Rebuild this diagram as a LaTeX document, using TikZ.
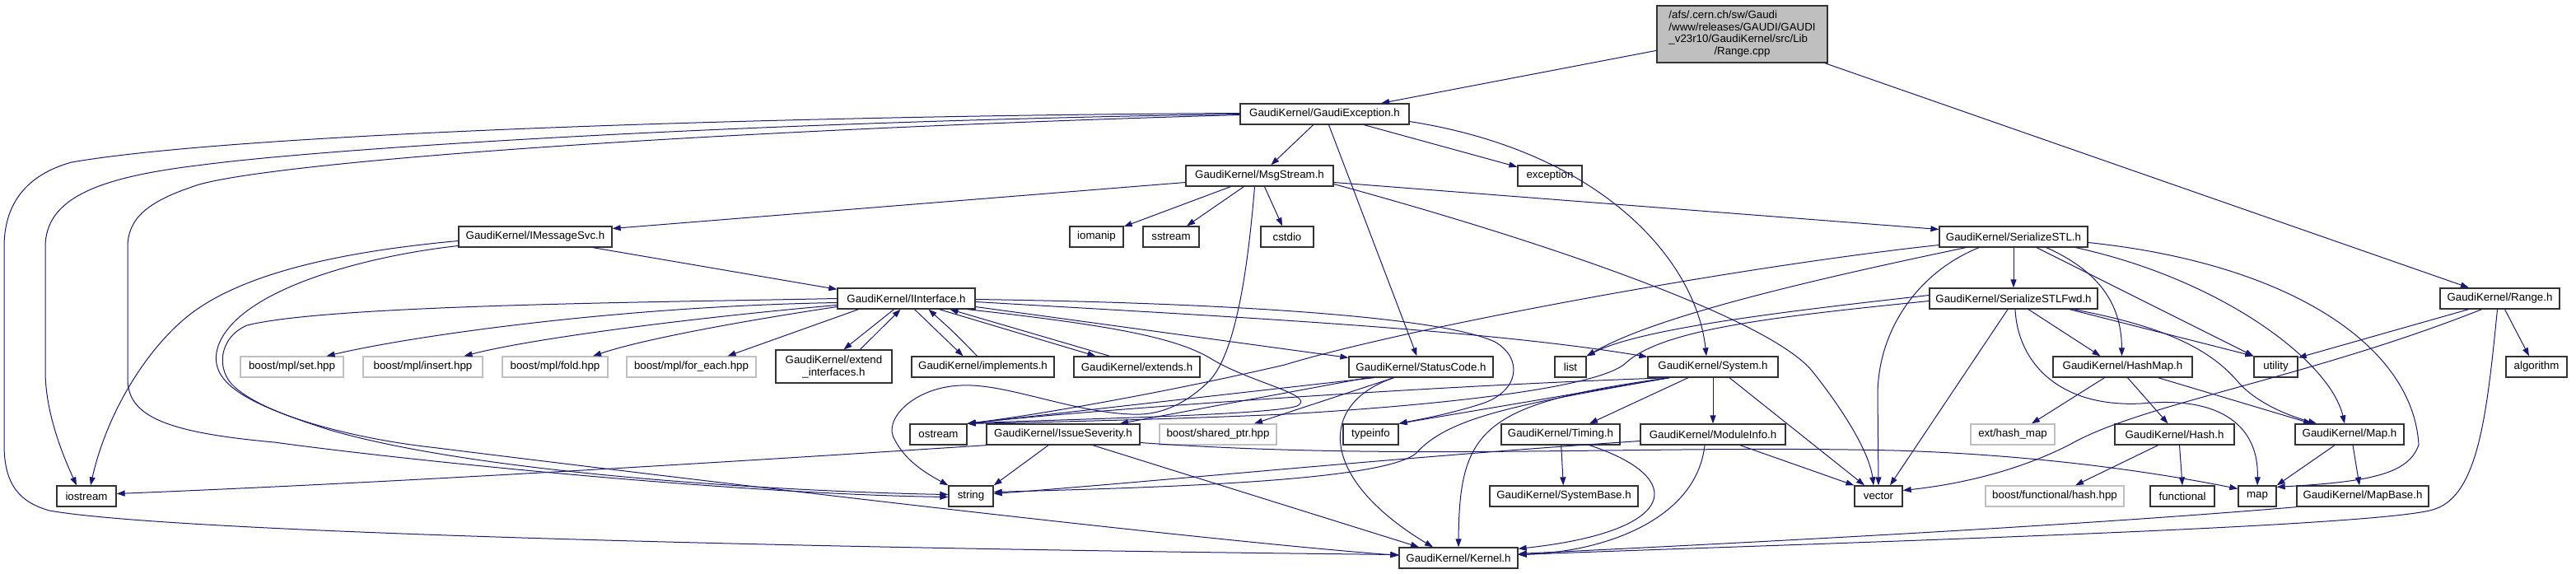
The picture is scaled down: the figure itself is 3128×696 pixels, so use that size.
\documentclass[tikz,border=0pt]{standalone}
\usepackage{fontspec}
\setmainfont{Liberation Sans}
\usetikzlibrary{arrows.meta,positioning}
\definecolor{midblue}{HTML}{191970}
\definecolor{extgray}{HTML}{BFBFBF}
\colorlet{rootfill}{black!25}
\tikzset{
  hfile/.style={draw=black!80,line width=1.3pt,fill=white,inner sep=0pt,minimum height=25pt,font=\fontsize{13.3}{15}\selectfont},
  extfile/.style={hfile,draw=extgray},
  dep/.style={draw=midblue,line width=1pt,-{Triangle[length=10pt,width=7pt]}},
}
\begin{document}
\begin{tikzpicture}[x=1pt,y=-1pt]%
        \useasboundingbox (0,0) rectangle (3128,696);%%
        \begin{scope}[every node/.style={hfile}]
        \node[fill=rootfill,minimum width=207pt,minimum height=69pt,font=\fontsize{13.3}{14.5}\selectfont] (root) at (2115.5,41.5)
          {\begin{tabular}{@{}l@{}}/afs/.cern.ch/sw/Gaudi\\/www/releases/GAUDI/GAUDI\\\_v23r10/GaudiKernel/src/Lib\\\multicolumn{1}{@{}c@{}}{/Range.cpp}\end{tabular}}; %%
        \node[minimum width=205pt] (exc) at (1608.5,138.5) {GaudiKernel/GaudiException.h}; %%
        \node[minimum width=145pt] (rangeh) at (3035.5,362.5) {GaudiKernel/Range.h}; %%
        \node[minimum width=179pt] (msg) at (1529.5,213.5) {GaudiKernel/MsgStream.h}; %%
        \node[minimum width=78pt] (exception) at (1882,213.5) {exception}; %%
        \node[minimum width=186pt] (imsg) at (650,287.5) {GaudiKernel/IMessageSvc.h}; %%
        \node[minimum width=65pt] (iomanip) at (1331.5,287.5) {iomanip}; %%
        \node[minimum width=68pt] (sstream) at (1422,287.5) {sstream}; %%
        \node[minimum width=64pt] (cstdio) at (1563,287.5) {cstdio}; %%
        \node[minimum width=180pt] (sstl) at (2445,287.5) {GaudiKernel/SerializeSTL.h}; %%
        \node[minimum width=167pt] (iif) at (1100.5,362.5) {GaudiKernel/IInterface.h}; %%
        \node[minimum width=204pt] (sfwd) at (2445,362.5) {GaudiKernel/SerializeSTLFwd.h}; %%
        \node[minimum width=141pt,minimum height=40pt,align=center] (extif) at (1012.5,445) {GaudiKernel/extend\\\_interfaces.h}; %%
        \node[minimum width=173pt] (impl) at (1193.5,445.5) {GaudiKernel/implements.h}; %%
        \node[minimum width=153pt] (ext) at (1380.5,445.5) {GaudiKernel/extends.h}; %%
        \node[minimum width=175pt] (status) at (1725.5,445.5) {GaudiKernel/StatusCode.h}; %%
        \node[minimum width=38pt] (list) at (1907,445.5) {list}; %%
        \node[minimum width=158pt] (system) at (2080,445.5) {GaudiKernel/System.h}; %%
        \node[minimum width=169pt] (hashmap) at (2577.5,445.5) {GaudiKernel/HashMap.h}; %%
        \node[minimum width=53pt] (utility) at (2763.5,445.5) {utility}; %%
        \node[minimum width=74pt] (algorithm) at (3080,445.5) {algorithm}; %%
        \node[minimum width=69pt] (ostream) at (1139.5,527.5) {ostream}; %%
        \node[minimum width=186pt] (issue) at (1291,527.5) {GaudiKernel/IssueSeverity.h}; %%
        \node[minimum width=67pt] (typeinfo) at (1664.5,527.5) {typeinfo}; %%
        \node[minimum width=144pt] (timing) at (1895,527.5) {GaudiKernel/Timing.h}; %%
        \node[minimum width=176pt] (modinfo) at (2080,527.5) {GaudiKernel/ModuleInfo.h}; %%
        \node[minimum width=145pt] (hash) at (2640.5,527.5) {GaudiKernel/Hash.h}; %%
        \node[minimum width=132pt] (maph) at (2853,527.5) {GaudiKernel/Map.h}; %%
        \node[minimum width=72pt] (iostream) at (105,602.5) {iostream}; %%
        \node[minimum width=54pt] (string) at (1179,602.5) {string}; %%
        \node[minimum width=180pt] (sysbase) at (1899,602.5) {GaudiKernel/SystemBase.h}; %%
        \node[minimum width=58pt] (vector) at (2281,602.5) {vector}; %%
        \node[minimum width=78pt] (functional) at (2650,602.5) {functional}; %%
        \node[minimum width=46pt] (mapstd) at (2741,602.5) {map}; %%
        \node[minimum width=160pt] (mapbase) at (2869,602.5) {GaudiKernel/MapBase.h}; %%
        \node[minimum width=144pt] (kernel) at (1771,677.5) {GaudiKernel/Kernel.h}; %%
        \end{scope}
        \begin{scope}[every node/.style={extfile}]
        \node[minimum width=125pt] (mplset) at (354.5,445.5) {boost/mpl/set.hpp}; %%
        \node[minimum width=145pt] (mplins) at (513.5,445.5) {boost/mpl/insert.hpp}; %%
        \node[minimum width=128pt] (mplfold) at (674,445.5) {boost/mpl/fold.hpp}; %%
        \node[minimum width=157pt] (mplfe) at (839.5,445.5) {boost/mpl/for\_each.hpp}; %%
        \node[minimum width=142pt] (shptr) at (1479,527.5) {boost/shared\_ptr.hpp}; %%
        \node[minimum width=102pt] (hashext) at (2444,527.5) {ext/hash\_map}; %%
        \node[minimum width=168pt] (fhash) at (2495,602.5) {boost/functional/hash.hpp}; %%
        \end{scope}
        % Range.cpp
        \draw[dep] (root) -- (exc); %%
        \draw[dep] (root) -- (rangeh); %%
        % GaudiException.h
        \draw[dep] (exc) -- (exception); %%
        \draw[dep] (exc) -- (msg); %%
        \draw[dep] (exc) -- (status); %%
        \draw[dep] (exc.-5) .. controls (1950,185) and (2060,320) .. ([xshift=-8pt]system.north); %%
        \draw[dep] ([yshift=1pt]exc.west) .. controls (1000,140) and (300,160) .. (87,197) .. controls (40,210) and (5,240) .. (5,300) -- (5,540) .. controls (5,590) and (25,610) .. (60,620) .. controls (200,645) and (900,665) .. ([yshift=4pt]kernel.west); %%
        \draw[dep] (exc.west) .. controls (900,148) and (400,180) .. (247,200) .. controls (120,215) and (55,240) .. (55,300) -- (55,450) .. controls (55,500) and (75,550) .. ([xshift=-12pt]iostream.north); %%
        \draw[dep] ([yshift=-1pt]exc.west) .. controls (800,160) and (300,200) .. (233,227) .. controls (180,245) and (155,265) .. (155,300) -- (155,460) .. controls (155,505) and (200,525) .. (333,537) .. controls (500,560) and (900,600) .. ([yshift=-1pt]string.west); %%
        % MsgStream.h
        \draw[dep] ([yshift=-8pt]msg.west) -- ([yshift=10pt]imsg.east); %%
        \draw[dep] (msg) -- (iomanip); %%
        \draw[dep] (msg) -- (sstream); %%
        \draw[dep] (msg) -- (cstdio); %%
        \draw[dep] ([xshift=-6pt]msg.south) .. controls (1515,330) and (1500,430) .. (1468,463) .. controls (1440,490) and (1410,505) .. (1373,503) .. controls (1300,500) and (1220,465) .. (1167,468) .. controls (1110,470) and (1070,510) .. (1087,535) .. controls (1100,560) and (1125,575) .. (string.north west); %%
        \draw[dep] ([yshift=-10pt]msg.east) .. controls (1900,300) and (2150,390) .. (2200,450) .. controls (2240,500) and (2270,550) .. ([xshift=-6pt]vector.north); %%
        \draw[dep] ([yshift=-8pt]msg.east) -- ([yshift=9pt]sstl.west); %%
        % IMessageSvc.h
        \draw[dep] ([xshift=70pt]imsg.south) -- ([yshift=-2pt]iif.north west); %%
        \draw[dep] ([yshift=-5pt]imsg.west) .. controls (420,305) and (300,330) .. (233,380) .. controls (180,420) and (130,500) .. ([xshift=5pt]iostream.north); %%
        \draw[dep] ([yshift=-11pt]imsg.west) .. controls (450,310) and (290,350) .. (265,420) .. controls (250,465) and (300,490) .. (400,522) .. controls (600,580) and (1000,598) .. ([yshift=2pt]string.west); %%
        % IInterface.h
        \draw[dep] ([yshift=-5pt]iif.west) .. controls (750,372) and (500,408) .. ([xshift=42pt]mplset.north); %%
        \draw[dep] ([yshift=-8pt]iif.west) .. controls (850,385) and (650,410) .. ([xshift=50pt]mplins.north); %%
        \draw[dep] ([yshift=-10pt]iif.west) .. controls (900,390) and (780,412) .. ([xshift=46pt]mplfold.north); %%
        \draw[dep] ([xshift=-58pt]iif.south) -- ([xshift=44pt]mplfe.north); %%
        \draw[dep] ([xshift=-15pt]iif.south) -- ([xshift=12pt]extif.north); %%
        \draw[dep] ([xshift=32pt]extif.north) -- ([xshift=-7pt]iif.south); %%
        \draw[dep] ([xshift=10pt]iif.south) -- ([xshift=-24pt]impl.north); %%
        \draw[dep] ([xshift=-7pt]impl.north) .. controls (1160,405) .. ([xshift=27pt]iif.south); %%
        \draw[dep] ([xshift=40pt]iif.south) -- ([xshift=-50pt]ext.north); %%
        \draw[dep] ([xshift=-33pt]ext.north) -- ([xshift=53pt]iif.south); %%
        \draw[dep] ([yshift=-10pt]iif.east) -- ([yshift=-2pt]status.north west); %%
        \draw[dep] ([yshift=-4pt]iif.east) .. controls (1500,385) and (1800,400) .. ([yshift=-1pt]system.north west); %%
        \draw[dep] ([yshift=-1pt]iif.east) .. controls (1500,368) and (1750,385) .. (1815,415) .. controls (1850,435) and (1845,475) .. (1800,490) .. controls (1760,503) and (1720,510) .. (typeinfo.north east); %%
        \draw[dep] ([xshift=-10pt]iif.south east) .. controls (1350,395) and (1430,410) .. (1473,437) .. controls (1520,465) and (1600,480) .. (1575,493) .. controls (1540,505) and (1250,510) .. (ostream.north east); %%
        \draw[dep] (iif.west) .. controls (800,367) and (400,370) .. (300,395) .. controls (265,410) and (262,450) .. (285,470) .. controls (330,510) and (450,535) .. (523,543) .. controls (900,590) and (1450,655) .. ([yshift=3pt]kernel.west); %%
        % SerializeSTL.h
        \draw[dep] ([yshift=-10pt]sstl.west) .. controls (2100,325) and (1700,400) .. (1560,443) .. controls (1400,480) and (1250,505) .. (ostream.north east); %%
        \draw[dep] ([xshift=-58pt]sstl.south) .. controls (2150,350) and (2000,390) .. (list.north east); %%
        \draw[dep] ([xshift=-42pt]sstl.south) .. controls (2330,330) and (2280,400) .. (2280,480) -- (vector.north); %%
        \draw[dep] (sstl) -- (sfwd); %%
        \draw[dep] ([xshift=40pt]sstl.south) .. controls (2550,330) and (2576,370) .. ([xshift=-1pt]hashmap.north); %%
        \draw[dep] ([xshift=28pt]sstl.south) -- (utility.north west); %%
        \draw[dep] ([xshift=-15pt]sstl.south east) .. controls (2700,340) and (2830,440) .. ([xshift=-6pt]maph.north); %%
        \draw[dep] ([yshift=-7pt]sstl.east) .. controls (2780,320) and (2930,420) .. (2937,540) .. controls (2925,575) and (2880,585) .. ([yshift=-2pt]mapstd.north east); %%
        % SerializeSTLFwd.h
        \draw[dep] ([yshift=4pt]sfwd.west) .. controls (2150,380) and (1990,400) .. (list.north east); %%
        \draw[dep] ([yshift=-3pt]sfwd.west) .. controls (2150,385) and (2020,400) .. (1975,440) .. controls (1940,475) and (1700,495) .. (1560,503) .. controls (1400,510) and (1250,513) .. (ostream.north east); %%
        \draw[dep] ([xshift=-7pt]sfwd.south) -- ([xshift=14pt]vector.north); %%
        \draw[dep] ([xshift=18pt]sfwd.south) -- ([xshift=-27pt]hashmap.north); %%
        \draw[dep] ([xshift=2pt]sfwd.south) .. controls (2450,440) and (2500,495) .. (2600,490) .. controls (2700,480) and (2743,520) .. (mapstd.north); %%
        \draw[dep] ([xshift=68pt]sfwd.south) -- (utility.north west); %%
        \draw[dep] ([xshift=-30pt]sfwd.south east) .. controls (2620,395) and (2680,420) .. (2717,463) .. controls (2740,490) and (2780,505) .. ([xshift=-40pt]maph.north); %%
        % StatusCode.h
        \draw[dep] ([xshift=-33pt]status.south) .. controls (1600,490) and (1600,580) .. ([xshift=-31pt]kernel.north); %%
        \draw[dep] ([xshift=-57pt]status.south) -- (ostream.north east); %%
        \draw[dep] ([xshift=-65pt]status.south) -- ([xshift=69pt]issue.north); %%
        \draw[dep] ([xshift=-33pt]status.south) -- ([xshift=44pt]shptr.north); %%
        % System.h
        \draw[dep] ([xshift=-53pt]system.south) .. controls (1700,470) and (1300,500) .. (ostream.north east); %%
        \draw[dep] ([xshift=-53pt]system.south) -- (typeinfo.north east); %%
        \draw[dep] ([xshift=-53pt]system.south) .. controls (1800,490) and (1772,520) .. (kernel.north); %%
        \draw[dep] ([xshift=-53pt]system.south) .. controls (1850,490) and (1760,505) .. (1720,550) .. controls (1680,585) and (1400,592) .. ([yshift=5pt]string.east); %%
        \draw[dep] ([xshift=-30pt]system.south) -- ([xshift=35pt]timing.north); %%
        \draw[dep] (system) -- (modinfo); %%
        \draw[dep] ([xshift=20pt]system.south) -- ([xshift=-17pt]vector.north); %%
        % Timing.h, ModuleInfo.h
        \draw[dep] (timing) -- (sysbase); %%
        \draw[dep] ([xshift=35pt]timing.south) .. controls (2050,580) and (2040,645) .. ([yshift=-2pt]kernel.north east); %%
        \draw[dep] ([xshift=-10pt]modinfo.south) .. controls (2060,630) and (1950,670) .. ([yshift=4pt]kernel.east); %%
        \draw[dep] ([yshift=-8pt]modinfo.west) .. controls (1700,555) and (1400,585) .. ([yshift=3pt]string.east); %%
        \draw[dep] ([xshift=33pt]modinfo.south) -- (vector.north west); %%
        % IssueSeverity.h
        \draw[dep] (issue.south west) .. controls (900,560) and (500,585) .. ([yshift=3pt]iostream.east); %%
        \draw[dep] ([xshift=-18pt]issue.south) -- (string.north east); %%
        \draw[dep] ([xshift=36pt]issue.south) -- ([xshift=-48pt]kernel.north); %%
        \draw[dep] ([yshift=-10pt]issue.east) .. controls (1700,560) and (2000,540) .. (2300,547) .. controls (2500,553) and (2650,580) .. ([yshift=9pt]mapstd.west); %%
        % HashMap.h, Hash.h, Map.h, MapBase.h
        \draw[dep] ([xshift=-22pt]hashmap.south) -- ([xshift=23pt]hashext.north); %%
        \draw[dep] ([xshift=6pt]hashmap.south) -- ([xshift=-8pt]hash.north); %%
        \draw[dep] ([xshift=43pt]hashmap.south) -- ([xshift=-46pt]maph.north); %%
        \draw[dep] ([xshift=6pt]hash.south) -- (functional.north); %%
        \draw[dep] ([xshift=-20pt]hash.south) -- ([xshift=25pt]fhash.north); %%
        \draw[dep] ([xshift=-18pt]maph.south) -- (mapstd.north east); %%
        \draw[dep] ([xshift=4pt]maph.south) -- ([xshift=-4pt]mapbase.north); %%
        \draw[dep] (mapbase.south west) .. controls (2500,640) and (2100,660) .. ([yshift=5pt]kernel.east); %%
        % Range.h
        \draw[dep] ([xshift=-38pt]rangeh.south) -- ([yshift=-2pt]utility.north east); %%
        \draw[dep] ([xshift=6pt]rangeh.south) -- ([xshift=-9pt]algorithm.north); %%
        \draw[dep] ([xshift=-22pt]rangeh.south) .. controls (2800,460) and (2600,490) .. (2513,540) .. controls (2450,572) and (2380,588) .. ([yshift=7pt]vector.east); %%
        \draw[dep] ([xshift=-3pt]rangeh.south) .. controls (3020,500) and (3010,600) .. (2957,618) .. controls (2900,640) and (2200,660) .. ([yshift=4pt]kernel.east); %%
\end{tikzpicture}
\end{document}
